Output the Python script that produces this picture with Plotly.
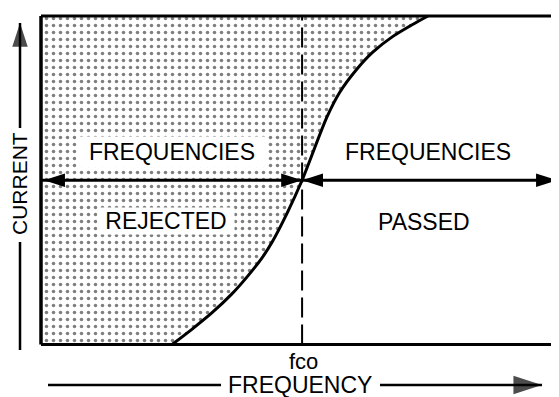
import plotly.graph_objects as go

# ---- data ----
freq = [25.4, 29.3, 33.1, 37.0, 40.1, 42.8, 44.8, 47.7, 50.6,
        55.4, 57.9, 61.2, 64.3, 68.2, 72.1, 75.0]
current = [0, 4.7, 9.6, 15.4, 20.9, 26.3, 31.2, 40.0, 50.0,
           69.2, 76.8, 83.8, 89.0, 93.8, 97.5, 100]
fco = 50.6
cut_level = 50.0
x_min, x_max = 0, 100
y_min, y_max = 0, 100

label_left_top = "FREQUENCIES"
label_left_bot = "REJECTED"
label_right_top = "FREQUENCIES"
label_right_bot = "PASSED"
tick_label = "fco"
x_title = "FREQUENCY"
y_title = "CURRENT"

# the page body adds an 8px margin, so the figure is 8px smaller
W, H = 551, 389
FONT = "Liberation Sans, Arial, Helvetica, sans-serif"

fig = go.Figure()

# shaded (rejected) region left of the response curve + the curve itself
fig.add_trace(go.Scatter(
    x=freq, y=current, mode="lines",
    line=dict(color="black", width=3, shape="spline", smoothing=0.7),
    fill="tozerox", fillcolor="white",
    fillpattern=dict(shape=".", size=7, solidity=0.2,
                     fgcolor="black", bgcolor="white"),
    hoverinfo="skip", showlegend=False,
))

# double-headed arrows at the cutoff level
arrow_marker = dict(symbol="arrow", color="black", line=dict(width=0))
fig.add_trace(go.Scatter(
    x=[x_min, fco], y=[cut_level, cut_level], mode="lines+markers",
    line=dict(color="black", width=3),
    marker=dict(**arrow_marker, size=22, angle=[-90, 90], standoff=[3, 0]),
    hoverinfo="skip", showlegend=False,
))
fig.add_trace(go.Scatter(
    x=[fco, x_max], y=[cut_level, cut_level], mode="lines+markers",
    line=dict(color="black", width=3),
    marker=dict(**arrow_marker, size=22, angle=[-90, 90], standoff=[0, 0]),
    hoverinfo="skip", showlegend=False,
))

# decorative axis arrows (paper-fraction overlay axes)
fig.add_trace(go.Scatter(
    x=[0.0218, 0.0218], y=[0.6915, 0.9614], mode="lines+markers",
    xaxis="x2", yaxis="y2",
    line=dict(color="black", width=2.5),
    marker=dict(**arrow_marker, size=[0, 25], angle=[0, 0]),
    hoverinfo="skip", showlegend=False,
))
fig.add_trace(go.Scatter(
    x=[0.0218, 0.0218], y=[0.3985, 0.1208], mode="lines",
    xaxis="x2", yaxis="y2",
    line=dict(color="black", width=2.5),
    hoverinfo="skip", showlegend=False,
))
fig.add_trace(go.Scatter(
    x=[0.0726, 0.3866], y=[0.0308, 0.0308], mode="lines",
    xaxis="x2", yaxis="y2",
    line=dict(color="black", width=2.5),
    hoverinfo="skip", showlegend=False,
))
fig.add_trace(go.Scatter(
    x=[0.6751, 0.9691], y=[0.0308, 0.0308], mode="lines+markers",
    xaxis="x2", yaxis="y2",
    line=dict(color="black", width=2.5),
    marker=dict(**arrow_marker, size=[0, 30], angle=[90, 90]),
    hoverinfo="skip", showlegend=False,
))

# frame (left, top, bottom) and the dashed cutoff line
shapes = [
    dict(type="line", xref="x", yref="y", x0=x_min, x1=x_min, y0=y_min, y1=y_max,
         line=dict(color="black", width=3.5)),
    dict(type="line", xref="x", yref="y", x0=x_min, x1=x_max + 1,
         y0=y_max, y1=y_max, line=dict(color="black", width=3)),
    dict(type="line", xref="x", yref="y", x0=x_min, x1=x_max + 1, y0=y_min, y1=y_min,
         line=dict(color="black", width=3)),
    dict(type="line", xref="x", yref="y", x0=fco, x1=fco, y0=y_min, y1=y_max,
         line=dict(color="black", width=2, dash="20px,7px")),
]


def txt(text, x, y, size=23, bg=None, w=None, h=None, angle=0):
    d = dict(text=text, x=x, y=y, xref="paper", yref="paper",
             xanchor="center", yanchor="middle", showarrow=False,
             font=dict(family=FONT, size=size, color="black"), textangle=angle)
    if bg:
        d.update(bgcolor=bg, borderpad=0)
    if w:
        d.update(width=w)
    if h:
        d.update(height=h)
    return d


annotations = [
    txt(label_left_top, 0.2976, 0.6298, bg="white", w=190, h=30),
    txt(label_left_bot, 0.2868, 0.4524, bg="white", w=136, h=26),
    txt(label_right_top, 0.7623, 0.6298),
    txt(label_right_bot, 0.7550, 0.4499),
    txt(tick_label, 0.5354, 0.0925, size=22),
    txt(x_title, 0.5299, 0.0308, size=23, h=24),
    txt(y_title, 0.0218, 0.5476, size=21, angle=-90),
]

fig.update_layout(
    width=W, height=H,
    margin=dict(l=0, r=0, t=0, b=0, pad=0),
    paper_bgcolor="white", plot_bgcolor="white",
    showlegend=False, hovermode=False,
    xaxis=dict(range=[-6.395, 100.39], visible=False, fixedrange=True),
    yaxis=dict(range=[-15.98, 102.435], visible=False, fixedrange=True),
    xaxis2=dict(range=[0, 1], visible=False, overlaying="x", fixedrange=True),
    yaxis2=dict(range=[0, 1], visible=False, overlaying="y", fixedrange=True),
    shapes=shapes,
    annotations=annotations,
)

fig.write_html("out.html", config={"displayModeBar": False})
